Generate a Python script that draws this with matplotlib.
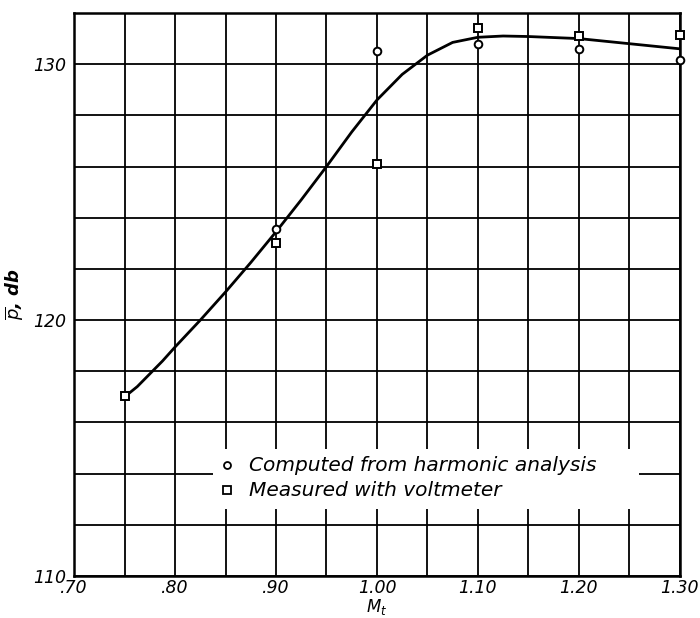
import numpy as np
import matplotlib
matplotlib.use('Agg')
import matplotlib.pyplot as plt

# values
m_computed = [0.90, 1.00, 1.10, 1.20, 1.30]
p_computed = [123.55, 130.5, 130.8, 130.6, 130.15]

m_measured = [0.75, 0.90, 1.00, 1.10, 1.20, 1.30]
p_measured = [117.05, 123.0, 126.1, 131.4, 131.1, 131.15]

m_curve = [0.75, 0.7625, 0.775, 0.7875, 0.80, 0.825, 0.85, 0.875, 0.90, 0.925, 0.95, 0.975,
           1.00, 1.025, 1.05, 1.075, 1.10, 1.125, 1.15, 1.20, 1.25, 1.30]
p_curve = [117.0, 117.4, 117.9, 118.4, 118.95, 120.0, 121.1, 122.25, 123.45, 124.7, 126.0, 127.35,
           128.6, 129.6, 130.35, 130.85, 131.05, 131.1, 131.08, 131.0, 130.8, 130.6]

x_ticks = [0.70, 0.80, 0.90, 1.00, 1.10, 1.20, 1.30]
x_labels = ['.70', '.80', '.90', '1.00', '1.10', '1.20', '1.30']
y_ticks = [110, 120, 130]
y_labels = ['110', '120', '130']

plt.rcParams['font.family'] = ['DejaVu Sans']

fig = plt.figure(figsize=(7, 6.18), dpi=100)
ax = fig.add_axes([0.106, 0.068, 0.865, 0.911])

ax.set_xlim(0.70, 1.30)
ax.set_ylim(110, 132)

# drawn grid: every 0.05 in M_t, every 2 db in p
for xv in np.arange(0.70, 1.3001, 0.05):
    ax.axvline(xv, color='black', lw=1.3, zorder=1)
for yv in np.arange(110, 132.01, 2):
    ax.axhline(yv, color='black', lw=1.3, zorder=1)

ax.plot(m_curve, p_curve, color='black', lw=2.0, zorder=3)
ax.plot(m_computed, p_computed, 'o', ms=5.5, mfc='white', mec='black', mew=1.4,
        zorder=4, clip_on=False)
ax.plot(m_measured, p_measured, 's', ms=6, mfc='white', mec='black', mew=1.4,
        zorder=4, clip_on=False)

# legend sits in a white box on top of the grid
ax.add_patch(plt.Rectangle((0.838, 112.6), 1.26 - 0.838, 114.95 - 112.6,
                           facecolor='white', edgecolor='none', zorder=5))
ax.plot([0.851], [114.32], 'o', ms=5, mfc='white', mec='black', mew=1.3, zorder=6)
ax.plot([0.851], [113.35], 's', ms=5.5, mfc='white', mec='black', mew=1.3, zorder=6)
ax.text(0.873, 114.32, 'Computed from harmonic analysis', style='italic',
        fontsize=14.5, va='center', zorder=6)
ax.text(0.873, 113.35, 'Measured with voltmeter', style='italic',
        fontsize=14.5, va='center', zorder=6)

ax.set_xticks(x_ticks)
ax.set_xticklabels(x_labels, style='italic', fontsize=12.5)
ax.set_yticks(y_ticks)
ax.set_yticklabels(y_labels, style='italic', fontsize=12.5)
ax.tick_params(axis='x', length=0, pad=2)
ax.tick_params(axis='y', length=0, pad=6)

for s in ax.spines.values():
    s.set_linewidth(1.8)

ax.set_xlabel(r'$M_t$', fontsize=12)
ax.xaxis.set_label_coords(0.5, -0.037)
ax.set_ylabel(r'$\overline{p}$, db', fontsize=13, style='italic', fontweight='bold', labelpad=6)

fig.savefig('out.png', dpi=100)
